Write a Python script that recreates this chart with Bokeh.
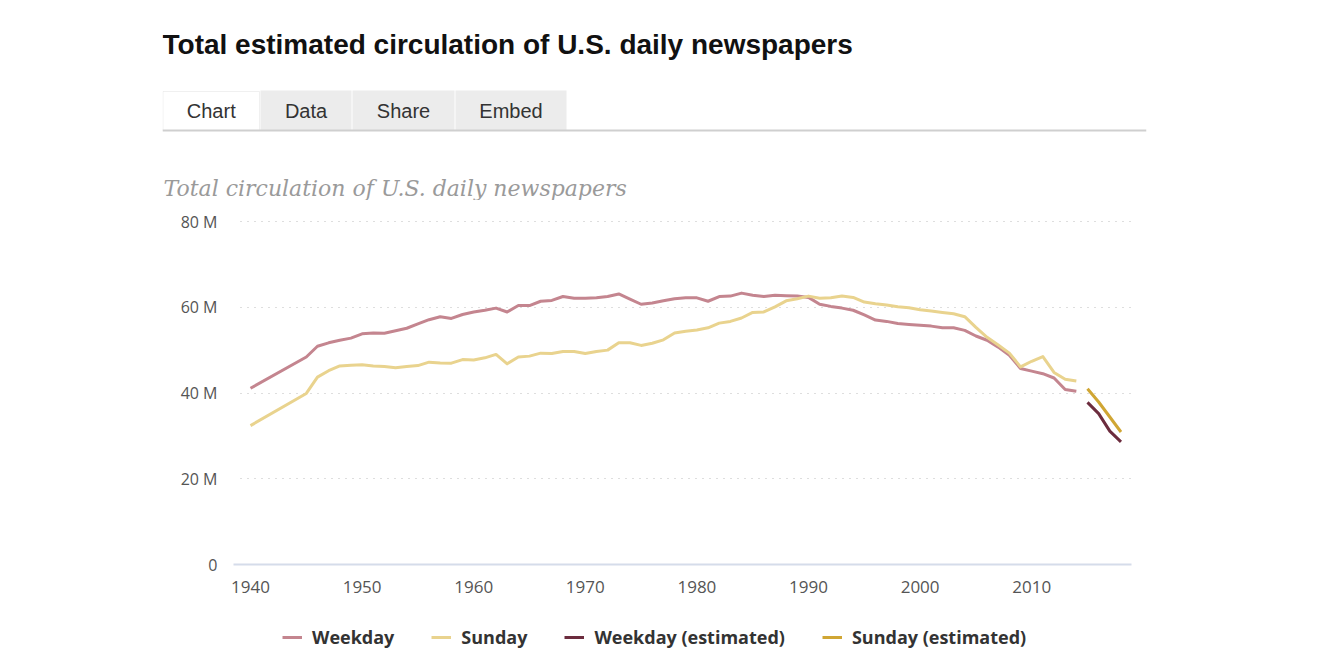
from bokeh.plotting import figure
from bokeh.layouts import column
from bokeh.models import (Range1d, FixedTicker, Label, BoxAnnotation, Grid,
                          Legend, LegendItem)
from bokeh.embed import file_html
from bokeh.resources import INLINE

# ---------------- data (millions) ----------------
years = [1940, 1945, 1946, 1947, 1948, 1949, 1950, 1951, 1952, 1953, 1954,
         1955, 1956, 1957, 1958, 1959, 1960, 1961, 1962, 1963, 1964, 1965,
         1966, 1967, 1968, 1969, 1970, 1971, 1972, 1973, 1974, 1975, 1976,
         1977, 1978, 1979, 1980, 1981, 1982, 1983, 1984, 1985, 1986, 1987,
         1988, 1989, 1990, 1991, 1992, 1993, 1994, 1995, 1996, 1997, 1998,
         1999, 2000, 2001, 2002, 2003, 2004, 2005, 2006, 2007, 2008, 2009,
         2010, 2011, 2012, 2013, 2014]
weekday = [41.1, 48.4, 50.9, 51.7, 52.3, 52.8, 53.8, 54.0, 53.95, 54.5, 55.1,
           56.1, 57.1, 57.8, 57.4, 58.3, 58.9, 59.3, 59.8, 58.9, 60.4, 60.4,
           61.4, 61.6, 62.5, 62.1, 62.1, 62.2, 62.5, 63.1, 61.9, 60.7, 61.0,
           61.5, 62.0, 62.2, 62.2, 61.4, 62.5, 62.6, 63.3, 62.8, 62.5, 62.8,
           62.7, 62.6, 62.3, 60.7, 60.2, 59.8, 59.3, 58.2, 57.0, 56.7, 56.2,
           56.0, 55.8, 55.6, 55.2, 55.2, 54.6, 53.3, 52.3, 50.7, 48.8, 45.7,
           45.1, 44.5, 43.5, 40.8, 40.4]
sunday = [32.4, 39.9, 43.7, 45.2, 46.3, 46.5, 46.6, 46.3, 46.2, 45.9, 46.2,
          46.4, 47.2, 47.0, 46.96, 47.8, 47.7, 48.2, 49.0, 46.8, 48.4, 48.6,
          49.3, 49.2, 49.7, 49.7, 49.2, 49.7, 50.0, 51.7, 51.7, 51.1, 51.6,
          52.4, 54.0, 54.4, 54.7, 55.2, 56.3, 56.7, 57.5, 58.8, 58.9, 60.1,
          61.5, 62.0, 62.6, 62.1, 62.2, 62.6, 62.3, 61.2, 60.8, 60.5, 60.1,
          59.9, 59.4, 59.1, 58.8, 58.5, 57.8, 55.3, 53.0, 51.2, 49.3, 46.1,
          47.4, 48.5, 44.8, 43.2, 42.8]
est_years = [2015, 2016, 2017, 2018]
weekday_est = [37.8, 35.2, 31.1, 28.6]
sunday_est = [41.0, 37.9, 34.4, 30.9]

y_ticks = [0, 20, 40, 60, 80]
y_tick_labels = {0: "0", 20: "20 M", 40: "40 M", 60: "60 M", 80: "80 M"}
x_ticks = [1940, 1950, 1960, 1970, 1980, 1990, 2000, 2010]

series_names = ["Weekday", "Sunday", "Weekday (estimated)", "Sunday (estimated)"]
series_colors = ["#c4858f", "#e9d38e", "#6c2c3e", "#d0a634"]

title_text = "Total estimated circulation of U.S. daily newspapers"
subtitle_text = "Total circulation of U.S. daily newspapers"
tab_names = ["Chart", "Data", "Share", "Embed"]

W = 1336
HEAD_H, MAIN_H, FOOT_H = 200, 410, 60
LEFT, RIGHT = 162, 1146          # page x of frame edges (all three plots)
PX_PER_YEAR = 11.16
PX_PER_M = 4.2875


def bare(fig):
    fig.title.visible = False
    fig.outline_line_color = None
    fig.background_fill_color = "white"
    fig.border_fill_color = "white"
    fig.xgrid.visible = False
    fig.ygrid.visible = False
    return fig


# ---------------- header (pixel coordinates, y downward) ----------------
head = bare(figure(width=W, height=HEAD_H, output_backend="svg", toolbar_location=None,
                   x_range=Range1d(LEFT, RIGHT), y_range=Range1d(HEAD_H, 0),
                   x_axis_type=None, y_axis_type=None,
                   min_border_left=LEFT, min_border_right=W - RIGHT,
                   min_border_top=0, min_border_bottom=0))

head.add_layout(Label(x=162, y=44, text=title_text, text_font="Liberation Sans",
                      text_font_style="bold", text_font_size="28px",
                      text_color="#111111", text_baseline="middle"))

tab_edges = [(162.5, 259), (260, 351), (352, 454), (455, 566)]
for i, (name, (l, r)) in enumerate(zip(tab_names, tab_edges)):
    if i == 0:
        head.add_layout(BoxAnnotation(left=l, right=r, top=91, bottom=130,
                                      fill_color="white", fill_alpha=1,
                                      line_color="#cccccc", line_width=1))
    else:
        head.add_layout(BoxAnnotation(left=l, right=r, top=90, bottom=130,
                                      fill_color="#ececec", fill_alpha=1,
                                      line_color=None))
    head.add_layout(Label(x=(l + r) / 2, y=110, text=name, text_font="Liberation Sans",
                          text_font_size="20px", text_color="#333333",
                          text_align="center", text_baseline="middle"))

head.add_layout(BoxAnnotation(left=162, right=1146, top=129, bottom=131,
                              fill_color="#cfcfcf", fill_alpha=1, line_color=None))

head.add_layout(Label(x=163, y=188, text=subtitle_text, text_font="DejaVu Serif",
                      text_font_style="italic", text_font_size="22px",
                      text_color="#9a9a9a", text_baseline="middle"))

# ---------------- main chart ----------------
# page geometry: 1940 at x=250, 0 M at y=564, 80 M at y=221
FRAME_TOP, FRAME_BOTTOM = HEAD_H + 5, 578
x_start = 1940 - (250 - LEFT) / PX_PER_YEAR
x_end = 1940 + (RIGHT - 250) / PX_PER_YEAR
y_end = 80 + (221 - FRAME_TOP) / PX_PER_M
y_start = -(FRAME_BOTTOM - 564) / PX_PER_M

p = figure(width=W, height=MAIN_H, output_backend="svg", toolbar_location=None,
           x_range=Range1d(x_start, x_end), y_range=Range1d(y_start, y_end),
           min_border_left=LEFT, min_border_right=W - RIGHT,
           min_border_top=FRAME_TOP - HEAD_H,
           min_border_bottom=HEAD_H + MAIN_H - FRAME_BOTTOM)
p.title.visible = False
p.outline_line_color = None
p.background_fill_color = "white"
p.border_fill_color = "white"

axis_left = 1940 - (250 - 236) / PX_PER_YEAR
base_lo = 1940 - (250 - 233) / PX_PER_YEAR
grid_lo = 1940 - (250 - 240) / PX_PER_YEAR
line_hi = 1940 + (1131 - 250) / PX_PER_YEAR

xa = p.xaxis[0]
xa.ticker = FixedTicker(ticks=x_ticks)
xa.axis_line_color = None
xa.major_tick_line_color = None
xa.minor_tick_line_color = None
xa.major_tick_out = 0
xa.major_label_standoff = 2
xa.major_label_text_font = "Open Sans"
xa.major_label_text_font_size = "17px"
xa.major_label_text_color = "#555555"

ya = p.yaxis[0]
ya.ticker = FixedTicker(ticks=y_ticks)
ya.major_label_overrides = y_tick_labels
ya.fixed_location = axis_left
ya.axis_line_color = None
ya.major_tick_line_color = None
ya.minor_tick_line_color = None
ya.major_tick_out = 0
ya.major_label_standoff = 19
ya.major_label_text_font = "Open Sans"
ya.major_label_text_font_size = "16px"
ya.major_label_text_color = "#555555"

p.xgrid.visible = False
grid = p.ygrid[0]
grid.ticker = FixedTicker(ticks=[20, 40, 60, 80])
grid.grid_line_color = "#bdbdbd"
grid.grid_line_dash = "1 6"
grid.grid_line_width = 1.2
grid.cross_bounds = (grid_lo, line_hi)

base = Grid(dimension=1, ticker=FixedTicker(ticks=[0]), grid_line_color="#d5dcea",
            grid_line_width=2, cross_bounds=(base_lo, line_hi))
p.add_layout(base)

r1 = p.line(years, weekday, line_color=series_colors[0], line_width=3, line_join="round")
r2 = p.line(years, sunday, line_color=series_colors[1], line_width=3, line_join="round")
r3 = p.line(est_years, weekday_est, line_color=series_colors[2], line_width=3, line_join="round")
r4 = p.line(est_years, sunday_est, line_color=series_colors[3], line_width=3, line_join="round")

# ---------------- footer with legend ----------------
y0 = HEAD_H + MAIN_H
foot = bare(figure(width=W, height=FOOT_H, output_backend="svg", toolbar_location=None,
                   x_range=Range1d(LEFT, RIGHT), y_range=Range1d(y0 + FOOT_H, y0),
                   x_axis_type=None, y_axis_type=None,
                   min_border_left=LEFT, min_border_right=W - RIGHT,
                   min_border_top=0, min_border_bottom=0))
# legend carriers: same series, lying outside this strip's visible range
carriers = [foot.line(years, weekday, line_color=series_colors[0], line_width=3),
            foot.line(years, sunday, line_color=series_colors[1], line_width=3),
            foot.line(est_years, weekday_est, line_color=series_colors[2], line_width=3),
            foot.line(est_years, sunday_est, line_color=series_colors[3], line_width=3)]
legend = Legend(items=[LegendItem(label=n, renderers=[r]) for n, r in
                       zip(series_names, carriers)],
                orientation="horizontal", location=(282 - LEFT, 21),
                spacing=37, glyph_width=20, glyph_height=20, label_standoff=10,
                label_height=20, padding=0, margin=0,
                border_line_color=None, background_fill_alpha=0,
                label_text_font="Open Sans", label_text_font_style="bold",
                label_text_font_size="18px", label_text_color="#333333")
foot.add_layout(legend)

layout = column(head, p, foot, spacing=0)
open("out.html", "w").write(file_html(layout, INLINE))
